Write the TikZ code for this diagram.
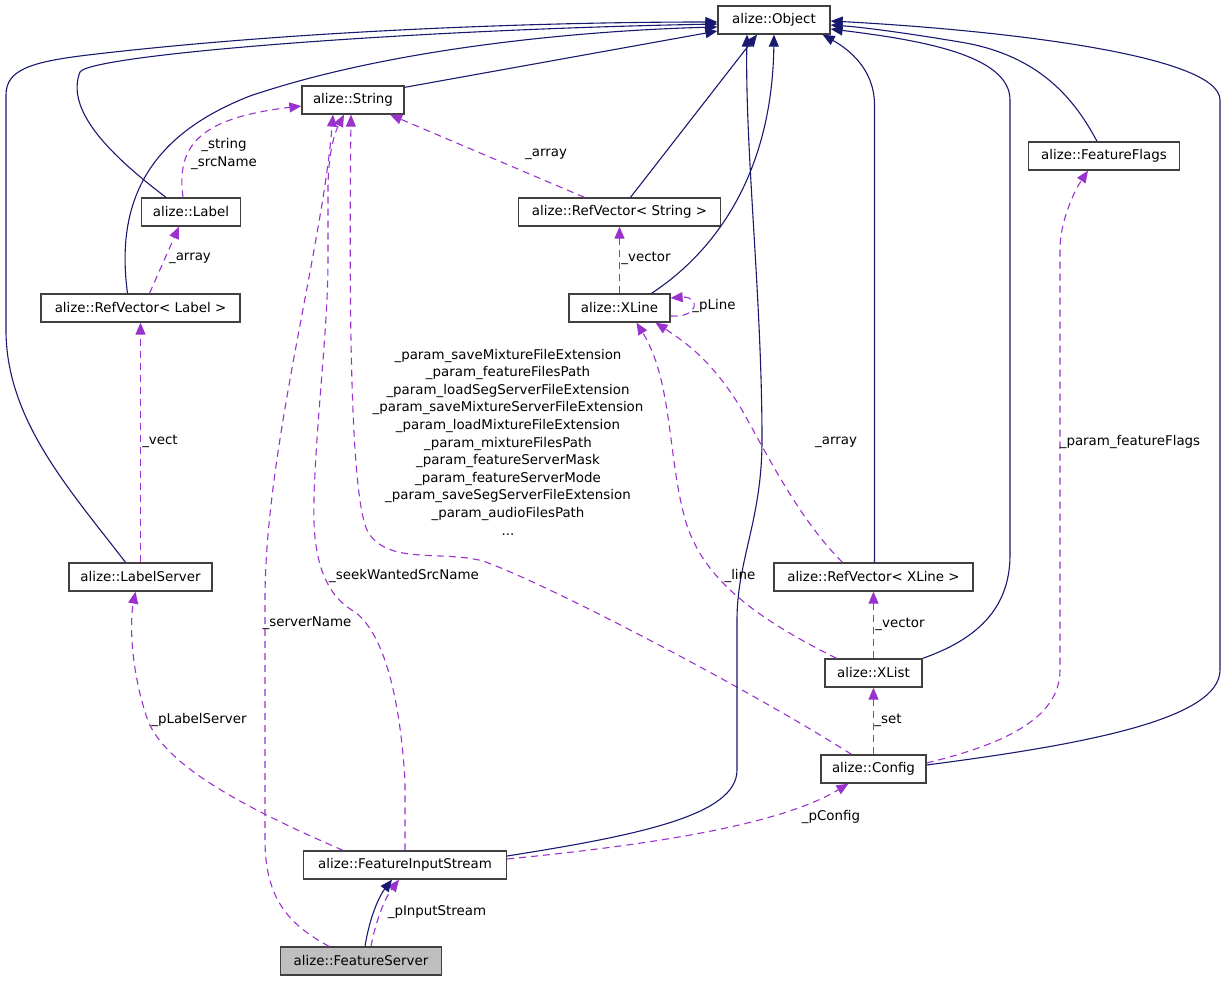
\documentclass[tikz,border=0pt]{standalone}
\usepackage{fontspec}
\setmainfont{DejaVu Sans}
\usetikzlibrary{arrows.meta}
\definecolor{inhcol}{HTML}{191970}
\definecolor{usecol}{HTML}{9A32CD}
\definecolor{boxcol}{HTML}{404040}

\begin{document}
\begin{tikzpicture}[
    x=1pt, y=-1pt,
    box/.style={draw=boxcol, line width=1.3pt, fill=white, minimum height=28pt, inner sep=0pt, font=\fontsize{13.4}{16}\selectfont},
    inhwire/.style={line width=1.1pt, inhcol, -{Triangle[length=12pt,width=10pt]}},
    usewire/.style={line width=1.1pt, usecol, dash pattern=on 7pt off 5pt, -{Triangle[length=12pt,width=10pt]}},
    lbl/.style={font=\fontsize{13.4}{17.6}\selectfont, inner sep=0pt, align=center}
  ]
  \useasboundingbox (0,0) rectangle (1227,981);

  \node[box, minimum width=112pt] (Object) at (774,20) {alize::Object};
  \node[box, minimum width=102pt] (String) at (353,100) {alize::String};
  \node[box, minimum width=151pt] (FeatureFlags) at (1104,156) {alize::FeatureFlags};
  \node[box, minimum width=99pt] (Label) at (191,212) {alize::Label};
  \node[box, minimum width=202pt] (RefVecString) at (619.5,212) {alize::RefVector< String >};
  \node[box, minimum width=199pt] (RefVecLabel) at (140.5,308) {alize::RefVector< Label >};
  \node[box, minimum width=101pt] (XLine) at (619.5,308) {alize::XLine};
  \node[box, minimum width=143pt] (LabelServer) at (140.5,577) {alize::LabelServer};
  \node[box, minimum width=199pt] (RefVecXLine) at (873.5,577) {alize::RefVector< XLine >};
  \node[box, minimum width=97pt] (XList) at (873.5,673) {alize::XList};
  \node[box, minimum width=105pt] (Config) at (873.5,769) {alize::Config};
  \node[box, minimum width=203pt] (FIS) at (405,865) {alize::FeatureInputStream};
  \node[box, minimum width=161pt, fill=gray!50] (FeatureServer) at (361,961) {alize::FeatureServer};

  % usage relations
  \draw[usewire] ([xshift=-8pt]Label.north) .. controls (176,145) and (200,118) .. ([yshift=-6pt]String.west);
  \draw[usewire] ([xshift=9pt]RefVecLabel.north) -- ([xshift=-12pt]Label.south);
  \draw[usewire] ([xshift=-35pt]RefVecString.north) -- ([xshift=37pt]String.south);
  \draw[usewire] (XLine.north) -- (RefVecString.south);
  \draw[usewire] ([yshift=-8pt]XLine.east) .. controls (700,318) and (700,296) .. ([yshift=10pt]XLine.east);
  \draw[usewire] (LabelServer.north) -- (RefVecLabel.south);
  \draw[usewire] ([xshift=-62pt]FIS.north) .. controls (250,810) and (160,765) .. (146,715) .. controls (130,665) and (130,620) .. ([xshift=-5pt]LabelServer.south);
  \draw[usewire] ([xshift=-32pt]FeatureServer.north) .. controls (290,925) and (265,900) .. (265,840) -- (265,600) .. controls (265,450) and (322,250) .. ([xshift=-20pt]String.south);
  \draw[usewire] (FIS.north) -- (405,780) .. controls (400,700) and (385,635) .. (355,612) .. controls (325,595) and (312,560) .. (314,500) .. controls (316,420) and (328,330) .. (328,260) -- (328,190) .. controls (328,150) and (336,130) .. ([xshift=-9pt]String.south);
  \draw[usewire] ([xshift=-22pt]Config.north) .. controls (750,690) and (550,585) .. (483,561) .. controls (440,550) and (388,565) .. (368,532) .. controls (350,500) and (349,300) .. ([xshift=-2pt]String.south);
  \draw[usewire] ([xshift=-37pt]XList.north) .. controls (760,620) and (700,580) .. (684,515) .. controls (668,455) and (672,380) .. ([xshift=17pt]XLine.south);
  \draw[usewire] ([xshift=-31pt]RefVecXLine.north) .. controls (800,520) and (770,460) .. (742,410) .. controls (715,365) and (690,345) .. ([xshift=36pt]XLine.south);
  \draw[usewire] (XList.north) -- (RefVecXLine.south);
  \draw[usewire] (Config.north) -- (XList.south);
  \draw[usewire] ([yshift=6pt]Config.east) .. controls (1000,745) and (1060,720) .. (1060,670) -- (1060,250) .. controls (1060,220) and (1075,190) .. ([xshift=-16pt]FeatureFlags.south);
  \draw[usewire] ([yshift=6pt]FIS.east) .. controls (650,845) and (780,825) .. ([xshift=-25pt]Config.south);
  \draw[usewire] ([xshift=10pt]FeatureServer.north) .. controls (376,920) and (385,898) .. ([xshift=-6pt]FIS.south);

  % inheritance
  \draw[inhwire] ([xshift=-15pt]LabelServer.north) .. controls (70,490) and (6,420) .. (6,330) -- (6,95) .. controls (6,70) and (30,62) .. (88,55) .. controls (300,30) and (550,22) .. ([yshift=-2pt]Object.west);
  \draw[inhwire] ([xshift=-25pt]Label.north) .. controls (110,155) and (65,110) .. (80,72) .. controls (90,55) and (400,30) .. ([yshift=-4pt]Object.west);
  \draw[inhwire] ([xshift=-13pt]RefVecLabel.north) .. controls (115,200) and (150,135) .. (250,96) .. controls (400,45) and (600,30) .. ([yshift=-7pt]Object.west);
  \draw[inhwire] ([yshift=-2pt]String.north east) -- ([yshift=-11pt]Object.west);
  \draw[inhwire] ([xshift=11pt]RefVecString.north) -- ([xshift=-17pt]Object.south);
  \draw[inhwire] ([xshift=32pt]XLine.north) .. controls (710,255) and (772,180) .. (Object.south);
  \draw[inhwire] ([yshift=9pt]FIS.east) .. controls (640,835) and (737,815) .. (737,770) -- (737,620) .. controls (737,560) and (762,520) .. (762,440) .. controls (762,300) and (745,150) .. ([xshift=-27pt]Object.south);
  \draw[inhwire] ([xshift=1pt]RefVecXLine.north) -- (874.5,105) .. controls (874.5,70) and (850,50) .. ([xshift=-8pt]Object.south east);
  \draw[inhwire] (XList.north east) .. controls (975,640) and (1010,610) .. (1010,555) -- (1010,100) .. controls (1010,55) and (920,40) .. ([yshift=-9pt]Object.east);
  \draw[inhwire] ([xshift=-7pt]FeatureFlags.north) .. controls (1075,100) and (1040,55) .. (960,42) .. controls (900,32) and (860,27) .. ([yshift=-5pt]Object.east);
  \draw[inhwire] ([yshift=4pt]Config.east) .. controls (1080,745) and (1220,720) .. (1220,670) -- (1220,100) .. controls (1220,55) and (1000,30) .. ([yshift=-1pt]Object.east);
  \draw[inhwire] ([xshift=4pt]FeatureServer.north) .. controls (370,915) and (380,895) .. ([xshift=-13pt]FIS.south);

  % edge labels
  \node[lbl] (lbStringSrc) at (224,154) {\_string\\\_srcName};
  \node[lbl] (lbArrayLabel) at (190,258) {\_array};
  \node[lbl] (lbArrayString) at (546,154) {\_array};
  \node[lbl] (lbVectorXLine) at (646,258) {\_vector};
  \node[lbl] (lbPLine) at (714,306) {\_pLine};
  \node[lbl] (lbVect) at (160,441) {\_vect};
  \node[lbl] (lbParams) at (508,442) {\_param\_saveMixtureFileExtension\\
    \_param\_featureFilesPath\\
    \_param\_loadSegServerFileExtension\\
    \_param\_saveMixtureServerFileExtension\\
    \_param\_loadMixtureFileExtension\\
    \_param\_mixtureFilesPath\\
    \_param\_featureServerMask\\
    \_param\_featureServerMode\\
    \_param\_saveSegServerFileExtension\\
    \_param\_audioFilesPath\\
    ...};
  \node[lbl] (lbSeek) at (404,576) {\_seekWantedSrcName};
  \node[lbl] (lbServerName) at (307,623) {\_serverName};
  \node[lbl] (lbPLabelServer) at (199,720) {\_pLabelServer};
  \node[lbl] (lbLine) at (740,576) {\_line};
  \node[lbl] (lbArrayXLine) at (836,442) {\_array};
  \node[lbl] (lbFeatureFlags) at (1130,442) {\_param\_featureFlags};
  \node[lbl] (lbVectorXList) at (900,624) {\_vector};
  \node[lbl] (lbSet) at (888,720) {\_set};
  \node[lbl] (lbPConfig) at (831,817) {\_pConfig};
  \node[lbl] (lbPInputStream) at (437,912) {\_pInputStream};
\end{tikzpicture}
\end{document}
